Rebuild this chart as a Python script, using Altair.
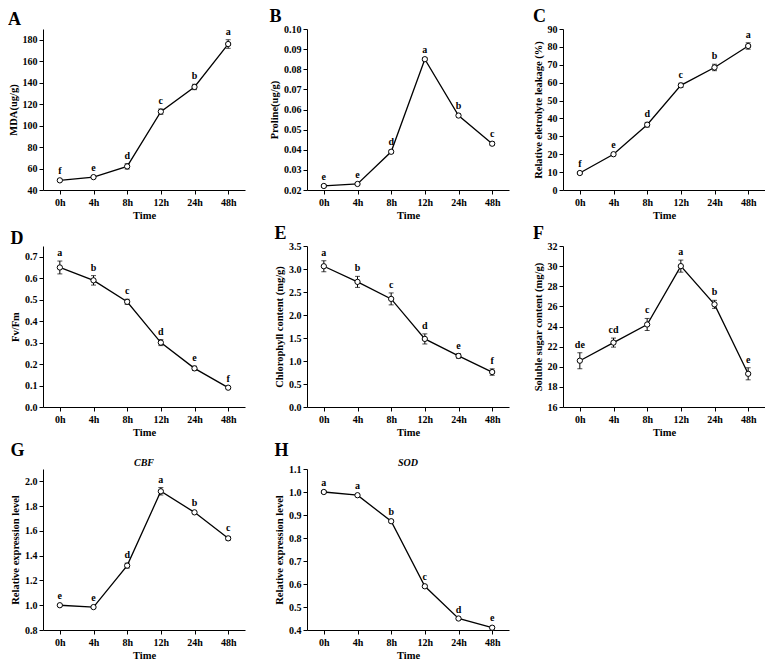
import altair as alt
import pandas as pd

times = ["0h", "4h", "8h", "12h", "24h", "48h"]

mda = [49, 52, 62, 113, 136, 176]
mda_err = [1.0, 1.0, 2.5, 2.5, 2.5, 4.0]
mda_sig = ["f", "e", "d", "c", "b", "a"]

proline = [0.022, 0.023, 0.039, 0.085, 0.057, 0.043]
proline_err = [0.0006, 0.0006, 0.0008, 0.0008, 0.0008, 0.0009]
proline_sig = ["e", "e", "d", "a", "b", "c"]

rel = [9.5, 20.0, 36.5, 58.5, 68.5, 80.5]
rel_err = [0.6, 0.8, 1.3, 1.2, 1.8, 1.8]
rel_sig = ["f", "e", "d", "c", "b", "a"]

fvfm = [0.65, 0.59, 0.49, 0.30, 0.18, 0.09]
fvfm_err = [0.03, 0.022, 0.012, 0.014, 0.01, 0.005]
fvfm_sig = ["a", "b", "c", "d", "e", "f"]

chl = [3.06, 2.72, 2.35, 1.48, 1.11, 0.76]
chl_err = [0.12, 0.12, 0.13, 0.11, 0.05, 0.07]
chl_sig = ["a", "b", "c", "d", "e", "f"]

sugar = [20.6, 22.4, 24.2, 30.0, 26.2, 19.3]
sugar_err = [0.8, 0.45, 0.6, 0.6, 0.4, 0.6]
sugar_sig = ["de", "cd", "c", "a", "b", "e"]

cbf = [1.0, 0.985, 1.32, 1.92, 1.75, 1.54]
cbf_err = [0.006, 0.006, 0.02, 0.03, 0.008, 0.015]
cbf_sig = ["e", "e", "d", "a", "b", "c"]

sod = [1.0, 0.986, 0.873, 0.59, 0.45, 0.41]
sod_err = [0.004, 0.004, 0.006, 0.005, 0.004, 0.006]
sod_sig = ["a", "a", "b", "c", "d", "e"]

FONT = "Liberation Serif"
W, H = 202, 161


def panel(letter, ytitle, vals, errs, sig, domain, ticks, fmt, gene=None):
    df = pd.DataFrame({
        "t": times,
        "v": vals,
        "lo": [v - e for v, e in zip(vals, errs)],
        "hi": [v + e for v, e in zip(vals, errs)],
        "sig": sig,
    })
    x = alt.X("t:O", sort=times,
              scale=alt.Scale(type="point", padding=0.5),
              axis=alt.Axis(title="Time", labelAngle=0, labelPadding=3, titlePadding=3))
    yscale = alt.Scale(domain=domain, nice=False, zero=False)
    yaxis = alt.Axis(title=ytitle, values=ticks, format=fmt, titlePadding=4,
                     labelOverlap=False)
    base = alt.Chart(df).encode(x=x)

    def Y(field):
        return alt.Y(field, scale=yscale, axis=yaxis)

    line = base.mark_line(color="black", strokeWidth=1.3).encode(y=Y("v:Q"))
    rule = base.mark_rule(color="black", strokeWidth=1).encode(y=Y("lo:Q"), y2="hi:Q")
    cap_lo = base.mark_tick(color="black", size=5, thickness=1).encode(y=Y("lo:Q"))
    cap_hi = base.mark_tick(color="black", size=5, thickness=1).encode(y=Y("hi:Q"))
    pts = base.mark_point(shape="circle", filled=True, fill="white", stroke="black",
                          strokeWidth=1, size=28, opacity=1).encode(y=Y("v:Q"))
    txt = base.mark_text(font=FONT, fontWeight="bold", fontSize=10, baseline="bottom",
                         dy=-3, color="black").encode(y=Y("hi:Q"), text="sig:N")
    layers = [line, rule, cap_lo, cap_hi, pts, txt]
    if gene:
        g = alt.Chart(pd.DataFrame({"g": [gene]})).mark_text(
            font=FONT, fontWeight="bold", fontStyle="italic", fontSize=10,
            baseline="bottom", color="black").encode(
            x=alt.value(W / 2), y=alt.value(-1), text="g:N")
        layers.append(g)
    return alt.layer(*layers).properties(
        width=W, height=H,
        title=alt.TitleParams(letter, anchor="start", frame="bounds", fontSize=18,
                              font=FONT, fontWeight="bold", color="black", offset=-2))


charts = [
    panel("A", "MDA(ug/g)", mda, mda_err, mda_sig, [40, 190], list(range(40, 181, 20)), "d"),
    panel("B", "Proline(ug/g)", proline, proline_err, proline_sig, [0.02, 0.10],
          [0.02, 0.03, 0.04, 0.05, 0.06, 0.07, 0.08, 0.09, 0.10], ".2f"),
    panel("C", "Relative eletrolyte leakage (%)", rel, rel_err, rel_sig, [0, 90],
          list(range(0, 91, 10)), "d"),
    panel("D", "Fv/Fm", fvfm, fvfm_err, fvfm_sig, [0, 0.75],
          [0.0, 0.1, 0.2, 0.3, 0.4, 0.5, 0.6, 0.7], ".1f"),
    panel("E", "Chlorophyll content (mg/g)", chl, chl_err, chl_sig, [0, 3.5],
          [0.0, 0.5, 1.0, 1.5, 2.0, 2.5, 3.0, 3.5], ".1f"),
    panel("F", "Soluble sugar content (mg/g)", sugar, sugar_err, sugar_sig, [16, 32],
          list(range(16, 33, 2)), "d"),
    panel("G", "Relative expression level", cbf, cbf_err, cbf_sig, [0.8, 2.1],
          [0.8, 1.0, 1.2, 1.4, 1.6, 1.8, 2.0], ".1f", gene="CBF"),
    panel("H", "Relative expression level", sod, sod_err, sod_sig, [0.4, 1.1],
          [0.4, 0.5, 0.6, 0.7, 0.8, 0.9, 1.0, 1.1], ".1f", gene="SOD"),
]

chart = alt.concat(*charts, columns=3, spacing={"row": 4, "column": 24}).properties(
    padding=0, background="white"
).configure_view(
    stroke=None
).configure_axis(
    domainColor="black", tickColor="black", labelColor="black", titleColor="black",
    labelFont=FONT, titleFont=FONT, labelFontWeight="bold", titleFontWeight="bold",
    labelFontSize=10, titleFontSize=10.5, grid=False, tickSize=4, domainWidth=1,
    tickWidth=1
)

chart.save("out.html", embed_options={"renderer": "svg", "actions": False})
